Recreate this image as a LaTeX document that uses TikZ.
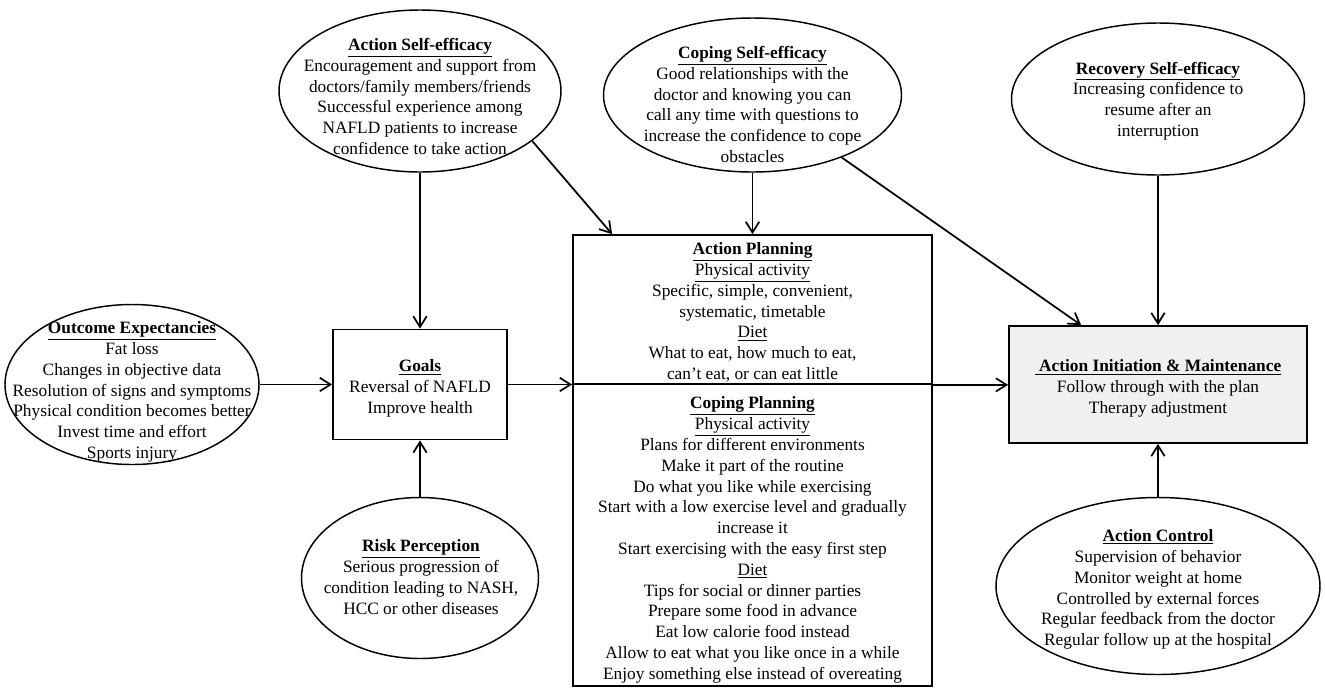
\documentclass[tikz,border=0pt]{standalone}
\usepackage{fontspec}
\setmainfont{Liberation Serif}
\usetikzlibrary{shapes.geometric,arrows.meta}
\begin{document}
\begin{tikzpicture}[x=0.75pt,y=-0.75pt,
  every node/.style={font=\fontsize{13}{15.6}\selectfont},
  ell/.style={draw, ellipse, line width=1.1pt, inner sep=0pt},
  boxnode/.style={draw, rectangle, line width=1.3pt, inner sep=0pt},
  txt/.style={align=center, inner sep=0pt},
  arr/.style={line width=1.3pt, -{Straight Barb[length=8pt,width=10pt]}}]
\useasboundingbox (0,0) rectangle (1325,697);

% ellipses
\node[ell, minimum width=190.5pt, minimum height=120pt] (oe) at (132,384.5) {};
\node[txt] (oet) at (132,392) {\underline{\textbf{Outcome Expectancies}}\\Fat loss\\Changes in objective data\\Resolution of signs and symptoms\\Physical condition becomes better\\Invest time and effort\\Sports injury};

\node[ell, minimum width=211.5pt, minimum height=121.5pt] (ase) at (420,91) {};
\node[txt] (aset) at (420,96.5) {\underline{\textbf{Action Self-efficacy}}\\Encouragement and support from\\doctors/family members/friends\\Successful experience among\\NAFLD patients to increase\\confidence to take action};

\node[ell, minimum width=223.5pt, minimum height=115.5pt] (cse) at (752.5,95) {};
\node[txt] (cset) at (752.5,104.5) {\underline{\textbf{Coping Self-efficacy}}\\Good relationships with the\\doctor and knowing you can\\call any time with questions to\\increase the confidence to cope\\obstacles};

\node[ell, minimum width=219.75pt, minimum height=114pt] (rse) at (1158,99) {};
\node[txt] (rset) at (1158,101) {\underline{\textbf{Recovery Self-efficacy}}\\Increasing confidence to\\resume after an\\interruption};

\node[ell, minimum width=177.75pt, minimum height=120.75pt] (risk) at (420,578) {};
\node[txt] (riskt) at (421,577) {\underline{\textbf{Risk Perception}}\\Serious progression of\\condition leading to NASH,\\HCC or other diseases};

\node[ell, minimum width=243pt, minimum height=132.75pt] (ac) at (1158,586) {};
\node[txt] (act) at (1158,589.5) {\underline{\textbf{Action Control}}\\Supervision of behavior\\Monitor weight at home\\Controlled by external forces\\Regular feedback from the doctor\\Regular follow up at the hospital};

% boxes
\node[boxnode, minimum width=130.5pt, minimum height=82.5pt] (goals) at (420,384.5) {};
\node[txt] (goalst) at (420,388.5) {\underline{\textbf{Goals}}\\Reversal of NAFLD\\Improve health};

\node[boxnode, minimum width=269.25pt, minimum height=111.75pt] (ap) at (752.5,309.5) {};
\node[txt] (apt) at (752.5,312.5) {\underline{\textbf{Action Planning}}\\\underline{Physical activity}\\Specific, simple, convenient,\\systematic, timetable\\\underline{Diet}\\What to eat, how much to eat,\\can’t eat, or can eat little};

\node[boxnode, minimum width=269.25pt, minimum height=226.5pt] (cp) at (752.5,535) {};
\node[txt] (cpt) at (752.5,540) {\underline{\textbf{Coping Planning}}\\\underline{Physical activity}\\Plans for different environments\\Make it part of the routine\\Do what you like while exercising\\Start with a low exercise level and gradually\\increase it\\Start exercising with the easy first step\\\underline{Diet}\\Tips for social or dinner parties\\Prepare some food in advance\\Eat low calorie food instead\\Allow to eat what you like once in a while\\Enjoy something else instead of overeating};

\node[boxnode, fill=black!6, minimum width=223.5pt, minimum height=87.75pt] (rbox) at (1158,384.5) {};
\node[txt] (rboxt) at (1158,388.5) {\underline{\textbf{\ Action Initiation \& Maintenance}}\\Follow through with the plan\\Therapy adjustment};

% connectors
\draw[arr] (oe) -- (goals);
\draw[arr] (ase) -- (goals);
\draw[arr] (risk) -- (goals);
\draw[arr] (goals.east) -- (goals.east -| ap.west);
\draw[arr] (ap.south east) -- (ap.south east -| rbox.west);
\draw[arr] (ase.-24.5) -- ([xshift=30pt]ap.north west);
\draw[arr] (cse) -- (ap);
\draw[arr] (cse) -- ([xshift=54.75pt]rbox.north west);
\draw[arr] (rse) -- (rbox);
\draw[arr] (ac) -- (rbox);
\end{tikzpicture}
\end{document}
